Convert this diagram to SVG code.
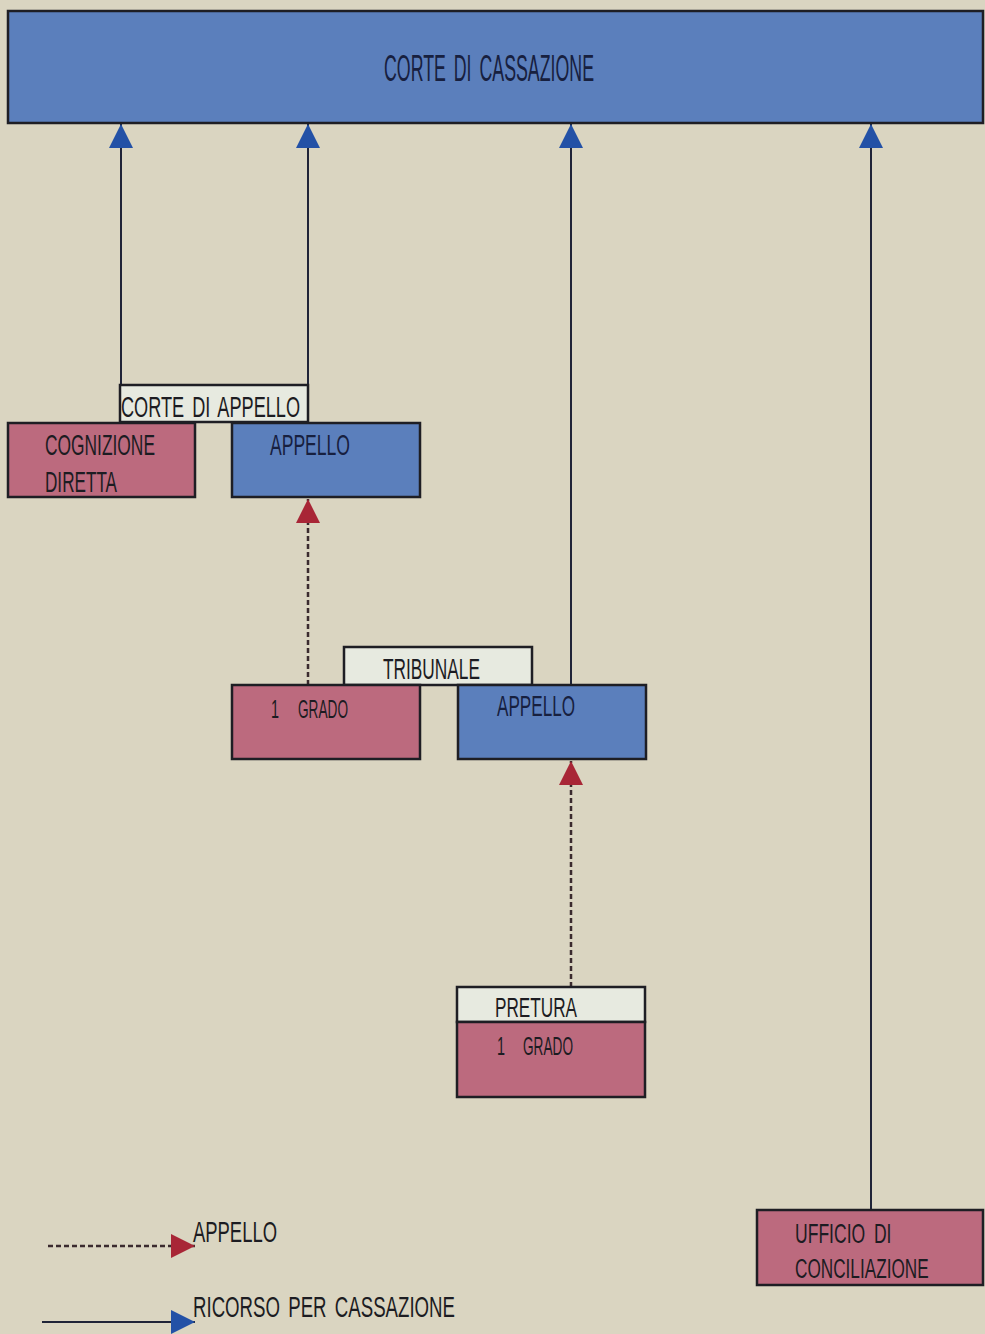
<svg xmlns="http://www.w3.org/2000/svg" width="985" height="1334" viewBox="0 0 985 1334">
<defs>
<style>
.bg{fill:#dad5c1}
.blue{fill:#5b7fbc;stroke:#1e1e24;stroke-width:2.5}
.pink{fill:#bc6a7e;stroke:#1e1e24;stroke-width:2.5}
.lab{fill:#e7eae0;stroke:#1e1e24;stroke-width:2.5}
.t{font-family:"Liberation Sans",Arial,sans-serif;fill:#1c1c22}
.tb{font-family:"Liberation Sans",Arial,sans-serif;fill:#17203f}
.cass{fill:none;stroke:#1f2438;stroke-width:2}
.app{fill:none;stroke:#3a2a2e;stroke-width:2.5;stroke-dasharray:5 3}
</style>
<marker id="ab" viewBox="0 0 26 24" refX="24" refY="12" markerWidth="26" markerHeight="24" markerUnits="userSpaceOnUse" orient="auto">
<polygon points="0,0 24,12 0,24" fill="#2351a6"/>
</marker>
<marker id="ar" viewBox="0 0 26 24" refX="24" refY="12" markerWidth="26" markerHeight="24" markerUnits="userSpaceOnUse" orient="auto">
<polygon points="0,0 24,12 0,24" fill="#a82636"/>
</marker>
</defs>
<rect class="bg" x="0" y="0" width="985" height="1334"/>

<g id="connectors">
<line class="cass" x1="121" y1="385" x2="121" y2="124" marker-end="url(#ab)"/>
<line class="cass" x1="308" y1="385" x2="308" y2="124" marker-end="url(#ab)"/>
<line class="cass" x1="571" y1="685" x2="571" y2="124" marker-end="url(#ab)"/>
<line class="cass" x1="871" y1="1210" x2="871" y2="124" marker-end="url(#ab)"/>
<line class="app" x1="308" y1="685" x2="308" y2="499" marker-end="url(#ar)"/>
<line class="app" x1="571" y1="987" x2="571" y2="761" marker-end="url(#ar)"/>
</g>

<g id="corte-cassazione">
<rect class="blue" x="8" y="11" width="975" height="112"/>
<text class="tb" x="384" y="81" font-size="36" textLength="210" lengthAdjust="spacingAndGlyphs" word-spacing="6">CORTE DI CASSAZIONE</text>
</g>

<g id="corte-appello-label">
<rect class="lab" x="120" y="385" width="188" height="37"/>
<text class="t" x="121" y="417" font-size="30" textLength="179" lengthAdjust="spacingAndGlyphs" word-spacing="5">CORTE DI APPELLO</text>
</g>

<g id="cognizione-diretta">
<rect class="pink" x="8" y="423" width="187" height="74"/>
<text class="t" x="45" y="455" font-size="30" textLength="110" lengthAdjust="spacingAndGlyphs">COGNIZIONE</text>
<text class="t" x="45" y="492" font-size="30" textLength="72" lengthAdjust="spacingAndGlyphs">DIRETTA</text>
</g>

<g id="corte-appello-appello">
<rect class="blue" x="232" y="423" width="188" height="74"/>
<text class="tb" x="270" y="455" font-size="30" textLength="80" lengthAdjust="spacingAndGlyphs">APPELLO</text>
</g>

<g id="tribunale-label">
<rect class="lab" x="344" y="647" width="188" height="38"/>
<text class="t" x="383" y="679" font-size="30" textLength="97" lengthAdjust="spacingAndGlyphs">TRIBUNALE</text>
</g>

<g id="tribunale-primo-grado">
<rect class="pink" x="232" y="685" width="188" height="74"/>
<text class="t" x="271" y="718" font-size="25" textLength="8" lengthAdjust="spacingAndGlyphs">1</text>
<text class="t" x="298" y="718" font-size="25" textLength="50" lengthAdjust="spacingAndGlyphs">GRADO</text>
</g>

<g id="tribunale-appello">
<rect class="blue" x="458" y="685" width="188" height="74"/>
<text class="tb" x="497" y="716" font-size="29" textLength="78" lengthAdjust="spacingAndGlyphs">APPELLO</text>
</g>

<g id="pretura-label">
<rect class="lab" x="457" y="987" width="188" height="35"/>
<text class="t" x="495" y="1017" font-size="28" textLength="82" lengthAdjust="spacingAndGlyphs">PRETURA</text>
</g>

<g id="pretura-primo-grado">
<rect class="pink" x="457" y="1022" width="188" height="75"/>
<text class="t" x="497" y="1055" font-size="25" textLength="8" lengthAdjust="spacingAndGlyphs">1</text>
<text class="t" x="523" y="1055" font-size="25" textLength="50" lengthAdjust="spacingAndGlyphs">GRADO</text>
</g>

<g id="ufficio-conciliazione">
<rect class="pink" x="757" y="1210" width="226" height="75"/>
<text class="t" transform="translate(795,1243) scale(0.65,1)" x="0" y="0" font-size="27" word-spacing="6">UFFICIO DI</text>
<text class="t" transform="translate(795,1278) scale(0.614,1)" x="0" y="0" font-size="28">CONCILIAZIONE</text>
</g>

<g id="legend">
<line class="app" x1="48" y1="1246" x2="195" y2="1246" marker-end="url(#ar)"/>
<text class="t" x="193" y="1242" font-size="30" textLength="84" lengthAdjust="spacingAndGlyphs">APPELLO</text>
<line class="cass" x1="42" y1="1322" x2="195" y2="1322" marker-end="url(#ab)"/>
<text class="t" x="193" y="1317" font-size="30" textLength="262" lengthAdjust="spacingAndGlyphs" word-spacing="5">RICORSO PER CASSAZIONE</text>
</g>
</svg>
